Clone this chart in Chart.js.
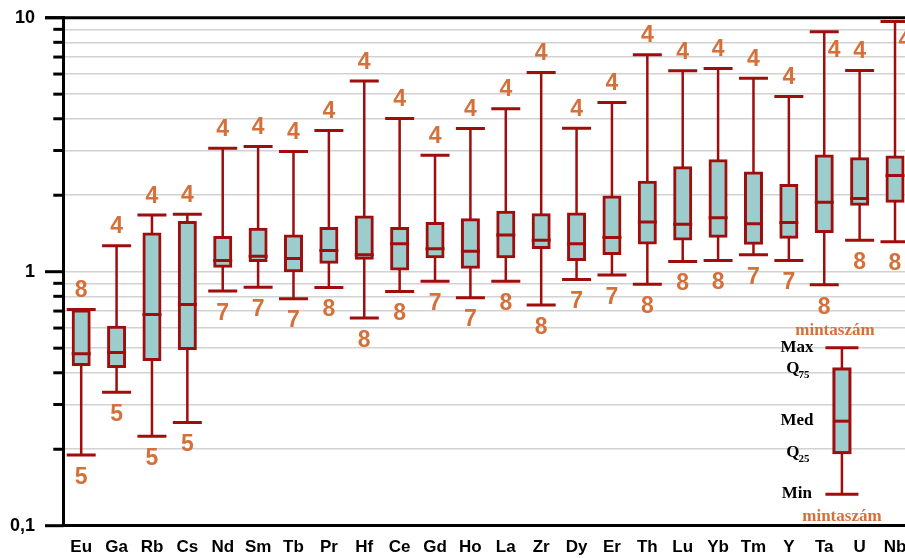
<!DOCTYPE html>
<html>
<head>
<meta charset="utf-8">
<script src="https://cdn.jsdelivr.net/npm/chart.js@4.4.1/dist/chart.umd.min.js"></script>
<style>
  html, body { margin: 0; padding: 0; background: #fff; overflow: hidden; }
  #wrap { width: 905px; height: 558px; overflow: hidden; position: relative; }
  canvas { position: absolute; left: 0; top: 0; }
</style>
</head>
<body>
<div id="wrap"><canvas id="c" width="914" height="558"></canvas></div>
<script>
// Element concentration ranges (box = Q25..Q75, line = median, whiskers = min..max)
const elements = ['Eu','Ga','Rb','Cs','Nd','Sm','Tb','Pr','Hf','Ce','Gd','Ho','La','Zr','Dy','Er','Th','Lu','Yb','Tm','Y','Ta','U','Nb'];
const minVals = [0.190,0.335,0.225,0.255,0.840,0.869,0.783,0.866,0.657,0.835,0.918,0.790,0.918,0.739,0.932,0.970,0.893,1.096,1.106,1.165,1.106,0.888,1.329,1.313];
const q25Vals = [0.431,0.423,0.451,0.499,1.050,1.106,1.009,1.089,1.130,1.025,1.144,1.041,1.144,1.246,1.116,1.180,1.297,1.346,1.379,1.293,1.366,1.439,1.845,1.896];
const medVals = [0.475,0.481,0.678,0.743,1.106,1.151,1.127,1.212,1.165,1.289,1.231,1.205,1.396,1.329,1.289,1.362,1.568,1.539,1.632,1.545,1.563,1.878,1.943,2.392];
const q75Vals = [0.700,0.605,1.409,1.563,1.362,1.471,1.383,1.480,1.642,1.480,1.549,1.602,1.714,1.677,1.688,1.967,2.250,2.567,2.736,2.444,2.183,2.857,2.787,2.830];
const maxVals = [0.710,1.266,1.672,1.682,3.064,3.112,2.973,3.594,5.636,4.012,2.874,3.661,4.385,6.084,3.672,4.634,7.154,6.178,6.311,5.774,4.896,8.810,6.197,9.656];
// sample counts printed above the maximum and below the minimum
const nAtMax = [8,4,4,4,4,4,4,4,4,4,4,4,4,4,4,4,4,4,4,4,4,4,4,4];
const nAtMin = [5,5,5,5,7,7,7,8,8,8,7,7,8,8,7,7,8,8,8,7,7,8,8,8];

// logarithmic axis ticks
const yTickValues = [0.1,0.2,0.3,0.4,0.5,0.6,0.7,0.8,0.9,1,2,3,4,5,6,7,8,9,10];
const yTickLabels = ['0,1','','','','','','','','','1','','','','','','','','','10'];

// explanatory key: min, Q25, median, Q75, max
const keyStats = [0.133, 0.194, 0.258, 0.414, 0.502];
const keyPosition = 21.5;

const RED = '#a00d0d';
const TEAL = '#9ccccc';
const ORANGE = '#d4703a';
const SANS = '"Liberation Sans", Arial, sans-serif';
const SERIF = '"Liberation Serif", "Times New Roman", serif';
const CLEAR = 'rgba(0,0,0,0)';

Chart.defaults.font.family = SANS;

const frame = {
  id: 'frame',
  afterDraw(chart) {
    const { ctx, chartArea, scales: { y } } = chart;
    ctx.save();
    ctx.strokeStyle = '#000';
    ctx.lineWidth = 3;
    // top frame line
    ctx.beginPath();
    ctx.moveTo(45, chartArea.top);
    ctx.lineTo(chart.width, chartArea.top);
    ctx.stroke();
    // major and minor tick marks on the value axis
    yTickValues.forEach((v, i) => {
      const py = y.getPixelForValue(v);
      ctx.beginPath();
      ctx.moveTo(yTickLabels[i] ? 45 : 53.3, py);
      ctx.lineTo(chartArea.left, py);
      ctx.stroke();
    });
    ctx.restore();
  }
};

const countLabels = {
  id: 'countLabels',
  afterDatasetsDraw(chart) {
    const { ctx, chartArea, scales: { x, y } } = chart;
    const half = 8.2; // half the digit height at this size
    ctx.save();
    ctx.fillStyle = ORANGE;
    ctx.font = 'bold 23px ' + SANS;
    ctx.textAlign = 'center';
    ctx.textBaseline = 'alphabetic';
    elements.forEach((_, i) => {
      const px = x.getPixelForValue(i);
      const top = y.getPixelForValue(maxVals[i]);
      const bot = y.getPixelForValue(minVals[i]);
      if (top - chartArea.top < 20) {
        ctx.fillText(String(nAtMax[i]), px + 10, top + 17.5 + half);
      } else {
        ctx.fillText(String(nAtMax[i]), px, top - 20.5 + half);
      }
      ctx.fillText(String(nAtMin[i]), px, bot + 20.5 + half);
    });
    ctx.restore();
  }
};

const boxKey = {
  id: 'boxKey',
  afterDatasetsDraw(chart) {
    const { ctx, scales: { x, y } } = chart;
    const lx = x.getPixelForValue(keyPosition);
    const [mn, q1, md, q3, mx] = keyStats.map(v => y.getPixelForValue(v));
    ctx.save();
    ctx.strokeStyle = RED;
    // whisker
    ctx.lineWidth = 2.5;
    ctx.beginPath(); ctx.moveTo(lx, mn); ctx.lineTo(lx, mx); ctx.stroke();
    // caps
    ctx.lineWidth = 3;
    ctx.beginPath();
    ctx.moveTo(lx - 16.5, mx); ctx.lineTo(lx + 16.5, mx);
    ctx.moveTo(lx - 16.5, mn); ctx.lineTo(lx + 16.5, mn);
    ctx.stroke();
    // box
    ctx.fillStyle = TEAL;
    ctx.fillRect(lx - 8, q3, 16, q1 - q3);
    ctx.strokeRect(lx - 8, q3, 16, q1 - q3);
    ctx.beginPath(); ctx.moveTo(lx - 8, md); ctx.lineTo(lx + 8, md); ctx.stroke();

    // texts
    ctx.textBaseline = 'middle';
    ctx.fillStyle = ORANGE;
    ctx.font = 'bold 17px ' + SERIF;
    ctx.textAlign = 'center';
    ctx.fillText('mintaszám', lx - 7, mx - 17);
    ctx.fillText('mintaszám', lx, mn + 22);

    ctx.fillStyle = '#000';
    ctx.textAlign = 'right';
    ctx.fillText('Max', lx - 28.5, mx);
    ctx.fillText('Med', lx - 28.5, md - 1);
    ctx.fillText('Min', lx - 30, mn - 1);
    [[q3, '75'], [q1, '25']].forEach(([py, sub]) => {
      ctx.font = 'bold 17px ' + SERIF;
      ctx.textAlign = 'right';
      ctx.textBaseline = 'middle';
      ctx.fillText('Q', lx - 42.5, py);
      ctx.font = 'bold 11px ' + SERIF;
      ctx.textAlign = 'left';
      ctx.textBaseline = 'alphabetic';
      ctx.fillText(sub, lx - 43.5, py + 9);
    });
    ctx.restore();
  }
};

const capPoint = (data, radius, order) => ({
  type: 'line',
  data,
  showLine: false,
  pointStyle: 'line',
  pointRadius: radius,
  pointHoverRadius: radius,
  pointBorderWidth: 3,
  pointBorderColor: RED,
  pointBackgroundColor: RED,
  order
});

new Chart(document.getElementById('c'), {
  type: 'bar',
  data: {
    labels: elements,
    datasets: [
      {
        type: 'bar',
        data: elements.map((_, i) => [minVals[i], maxVals[i]]),
        backgroundColor: RED,
        borderWidth: 0,
        barThickness: 2.5,
        inflateAmount: 0,
        grouped: false,
        order: 5
      },
      {
        type: 'bar',
        data: elements.map((_, i) => [q25Vals[i], q75Vals[i]]),
        backgroundColor: TEAL,
        borderColor: RED,
        borderWidth: 3,
        borderSkipped: false,
        barThickness: 16,
        inflateAmount: 1.5,
        grouped: false,
        order: 4
      },
      capPoint(maxVals, 14.5, 3),
      capPoint(minVals, 14.5, 2),
      capPoint(medVals, 9.5, 1)
    ]
  },
  options: {
    responsive: false,
    devicePixelRatio: 1,
    animation: false,
    layout: { autoPadding: false, padding: { top: 17.7, right: 1.3, bottom: 0, left: 0 } },
    plugins: { legend: { display: false }, tooltip: { enabled: false } },
    scales: {
      x: {
        grid: { drawOnChartArea: false, drawTicks: true, tickLength: 11, tickColor: CLEAR },
        border: { color: '#000', width: 3 },
        ticks: {
          color: '#000',
          font: { family: SANS, size: 17, weight: 'bold' },
          padding: 0,
          autoSkip: false,
          maxRotation: 0
        },
        afterFit: s => { s.height = 32.3; }
      },
      y: {
        type: 'logarithmic',
        min: 0.1,
        max: 10,
        afterBuildTicks: s => { s.ticks = yTickValues.map(v => ({ value: v })); },
        afterFit: s => { s.width = 63.5; },
        ticks: {
          autoSkip: false,
          padding: 0,
          color: '#000',
          font: { family: SANS, size: 18, weight: 'bold' },
          callback: (v, i) => yTickLabels[i]
        },
        grid: { color: '#d2d2d2', lineWidth: 1.5, drawTicks: true, tickLength: 28.5, tickColor: CLEAR },
        border: { color: '#000', width: 3 }
      }
    }
  },
  plugins: [frame, countLabels, boxKey]
});
</script>
</body>
</html>
